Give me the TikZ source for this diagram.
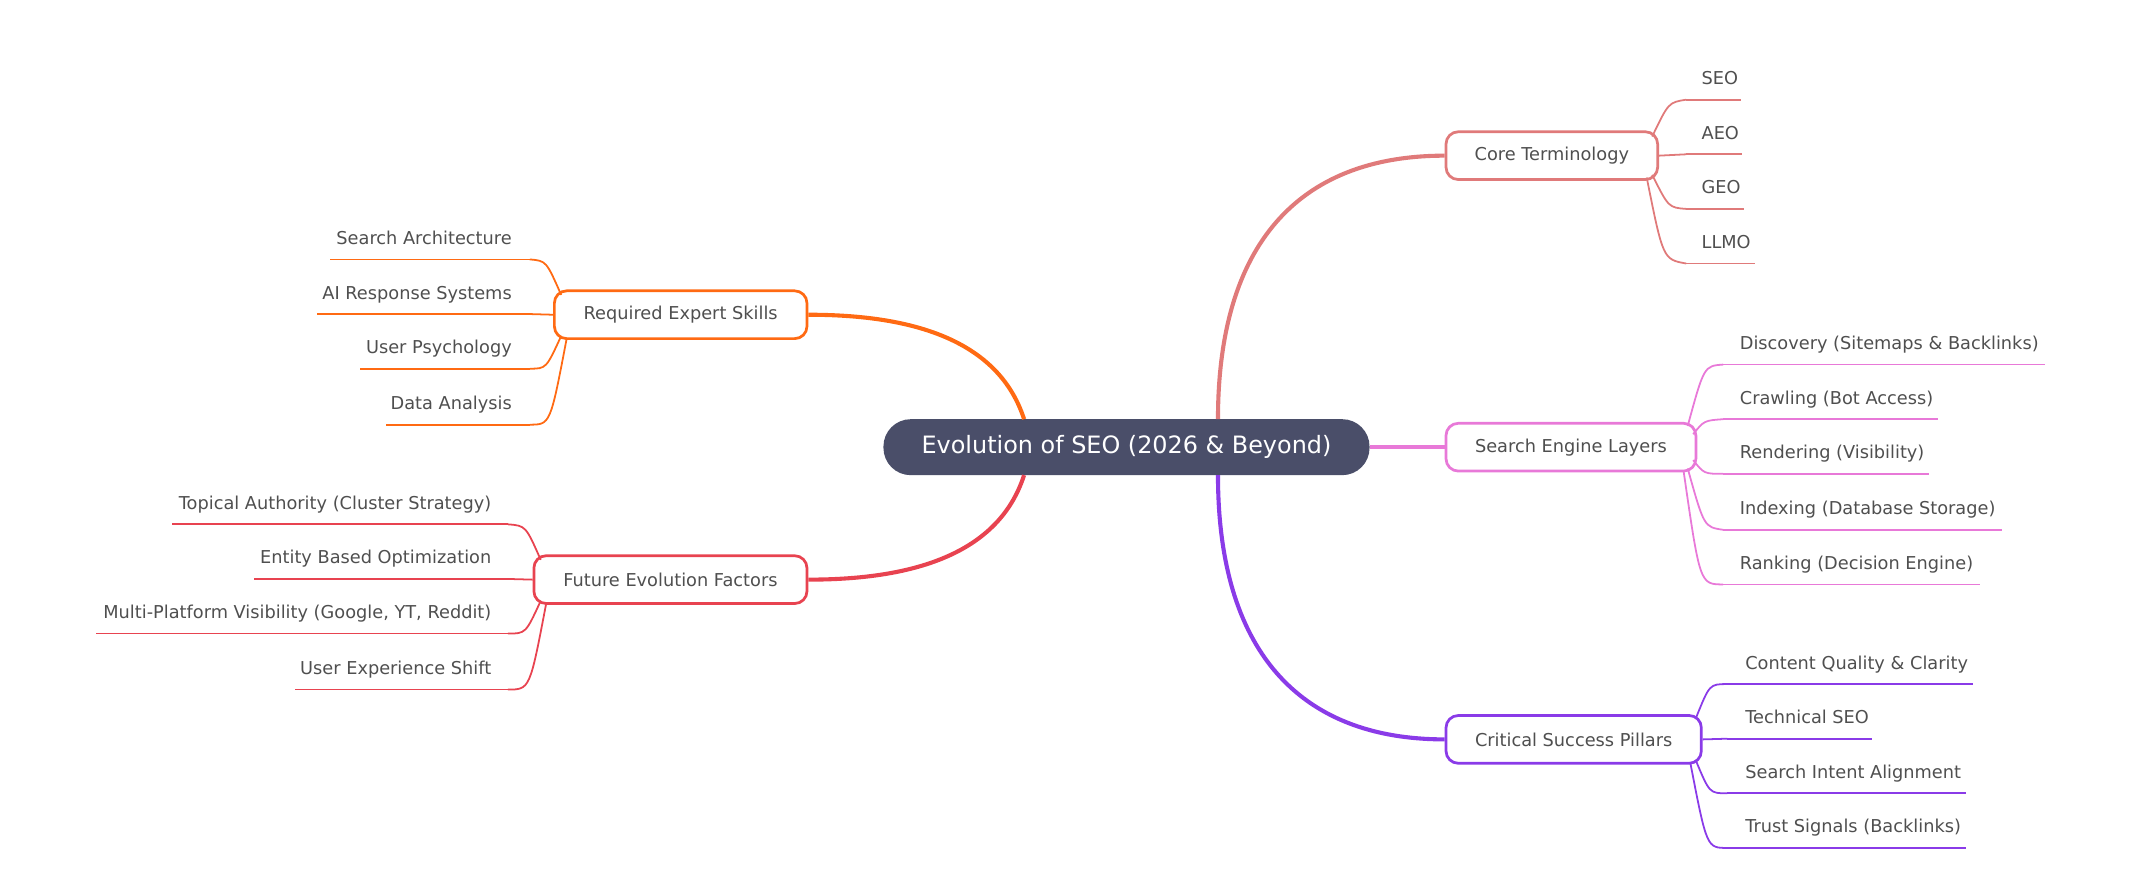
\documentclass[tikz,border=0pt]{standalone}
\usepackage{fontspec}
\setmainfont{DejaVu Sans}
\usetikzlibrary{calc}
\definecolor{cT}{HTML}{E07A7A}
\definecolor{cL}{HTML}{E879D8}
\definecolor{cP}{HTML}{8A3BE8}
\definecolor{cR}{HTML}{FF6A13}
\definecolor{cF}{HTML}{E84350}
\definecolor{cC}{HTML}{4A4E69}
\definecolor{tx}{HTML}{4F4F4F}
\tikzset{
 branch/.style={draw=#1,line width=2pt,rounded corners=9pt,minimum height=35pt,inner xsep=8pt,font=\fontsize{13}{15}\selectfont,text=tx,fill=white},
 lt/.style={font=\fontsize{13}{15}\selectfont,text=tx,inner sep=0pt},
 main/.style={draw=#1,line width=3pt},
 leaf/.style={draw=#1,line width=1.3pt},
}
\begin{document}
\begin{tikzpicture}[x=1pt,y=-1pt]
\useasboundingbox (0,0) rectangle (1568,655.5);
\node[fill=cC,rounded corners=20pt,minimum width=356pt,minimum height=41pt,text=white,font=\fontsize{17.5}{20}\selectfont] (c) at (825,327.5) {Evolution of SEO (2026 \& Beyond)};
\node[branch=cT,minimum width=155pt] (core) at (1136.5,114) {Core Terminology};
\node[branch=cL,minimum width=183pt] (sel) at (1150.5,327.5) {Search Engine Layers};
\node[branch=cP,minimum width=187pt] (csp) at (1152.5,541.5) {Critical Success Pillars};
\node[branch=cR,minimum width=185pt] (res) at (498.5,230.5) {Required Expert Skills};
\node[branch=cF,minimum width=200pt] (fef) at (491,424.5) {Future Evolution Factors};
\draw[main=cT] (892,307) coordinate(a1) .. controls (892,180) and (950,114) .. (core.west);
\draw[main=cP] (892,348) coordinate(a2) .. controls (892,475) and (950,541.5) .. (csp.west);
\draw[main=cL] (c.east) -- (sel.west);
\draw[main=cR] (750,307) coordinate(a3) .. controls (730,245) and (660,230.5) .. (res.east);
\draw[main=cF] (750,348) coordinate(a4) .. controls (730,410) and (660,424.5) .. (fef.east);
% right leaves
\foreach \t/\y/\e [count=\i] in {SEO/73/1275,AEO/113/1276,GEO/153/1277,LLMO/193/1285}{
 \coordinate (k\i) at (1235,\y);
 \draw[leaf=cT] (k\i) -- (\e,\y);
 \node[lt,anchor=base west] at (1246,\y-11) {\t};
}
\draw[leaf=cT] (1210,100) .. controls (1222,75) .. (k1);
\draw[leaf=cT] (core.east) -- (k2);
\draw[leaf=cT] (1210,128) .. controls (1222,152) .. (k3);
\draw[leaf=cT] (1206,130) .. controls (1218,190) .. (k4);
\foreach \t/\y/\e [count=\i] in {Discovery (Sitemaps \& Backlinks)/267/1498,Crawling (Bot Access)/307/1419,Rendering (Visibility)/347/1413,Indexing (Database Storage)/388/1466,Ranking (Decision Engine)/428/1450}{
 \coordinate (s\i) at (1262,\y);
 \draw[leaf=cL] (s\i) -- (\e,\y);
 \node[lt,anchor=base west] at (1274,\y-11) {\t};
}
\draw[leaf=cL] (1236,312) .. controls (1248,268) .. (s1);
\draw[leaf=cL] (1240,318) .. controls (1248,308) .. (s2);
\draw[leaf=cL] (1240,337) .. controls (1248,347) .. (s3);
\draw[leaf=cL] (1236,343) .. controls (1248,386) .. (s4);
\draw[leaf=cL] (1233,345) .. controls (1245,428) .. (s5);
\foreach \t/\y/\e [count=\i] in {Content Quality \& Clarity/501/1445,Technical SEO/541/1371,Search Intent Alignment/581/1440,Trust Signals (Backlinks)/621/1440}{
 \coordinate (p\i) at (1265,\y);
 \draw[leaf=cP] (p\i) -- (\e,\y);
 \node[lt,anchor=base west] at (1278,\y-11) {\t};
}
\draw[leaf=cP] (1242,526) .. controls (1252,501) .. (p1);
\draw[leaf=cP] (csp.east) -- (p2);
\draw[leaf=cP] (1242,557) .. controls (1252,581) .. (p3);
\draw[leaf=cP] (1238,559) .. controls (1250,621) .. (p4);
% left leaves
\foreach \t/\y/\e [count=\i] in {Search Architecture/190/242,AI Response Systems/230/232,User Psychology/270/264,Data Analysis/311/283}{
 \coordinate (r\i) at (388,\y);
 \draw[leaf=cR] (r\i) -- (\e,\y);
 \node[lt,anchor=base east] at (375,\y-11) {\t};
}
\draw[leaf=cR] (411,216) .. controls (400,191) .. (r1);
\draw[leaf=cR] (res.west) -- (r2);
\draw[leaf=cR] (411,246) .. controls (400,270) .. (r3);
\draw[leaf=cR] (415,248) .. controls (403,311) .. (r4);
\foreach \t/\y/\e [count=\i] in {Topical Authority (Cluster Strategy)/384/126,Entity Based Optimization/424/186,{Multi-Platform Visibility (Google, YT, Reddit)}/464/70,User Experience Shift/505/216}{
 \coordinate (f\i) at (372,\y);
 \draw[leaf=cF] (f\i) -- (\e,\y);
 \node[lt,anchor=base east] at (360,\y-11) {\t};
}
\draw[leaf=cF] (396,410) .. controls (385,385) .. (f1);
\draw[leaf=cF] (fef.west) -- (f2);
\draw[leaf=cF] (396,440) .. controls (385,464) .. (f3);
\draw[leaf=cF] (400,442) .. controls (388,505) .. (f4);
\end{tikzpicture}
\end{document}
